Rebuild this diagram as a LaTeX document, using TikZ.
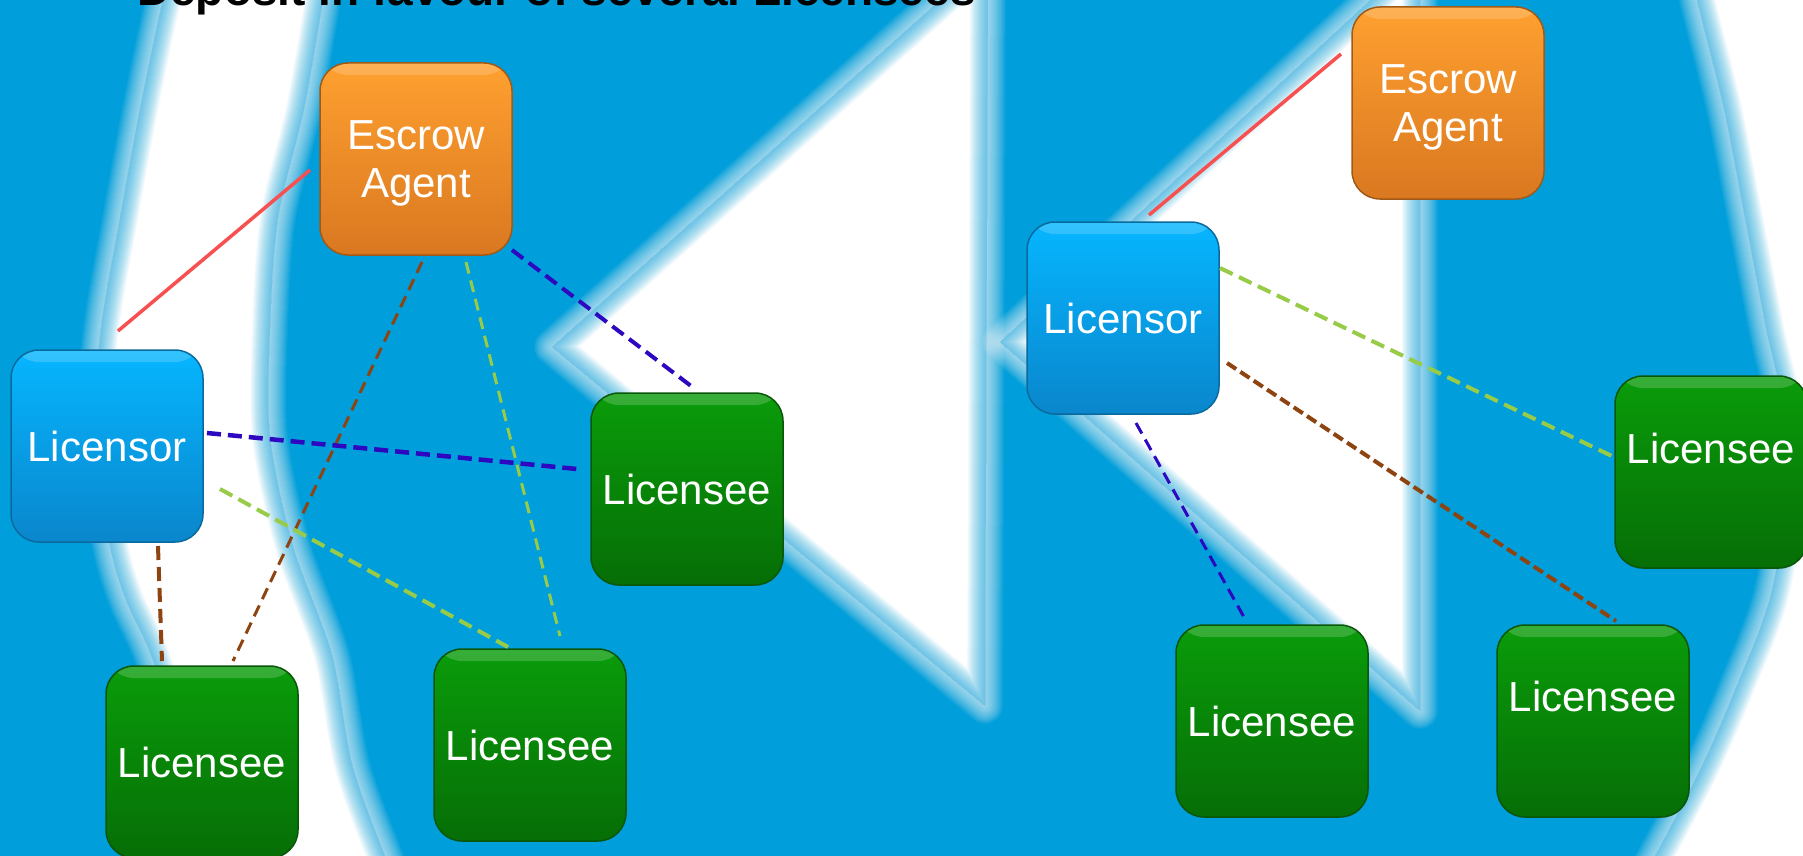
\documentclass[tikz,border=0pt]{standalone}
\usepackage{fontspec}
\setmainfont{Liberation Sans}
\definecolor{bgblue}{HTML}{009EDA}
\definecolor{bluT}{HTML}{06B6FF}
\definecolor{bluB}{HTML}{0A86CC}
\definecolor{bluD}{HTML}{0A6A9E}
\definecolor{orgT}{HTML}{FFA030}
\definecolor{orgB}{HTML}{D97820}
\definecolor{orgD}{HTML}{A05A18}
\definecolor{grnT}{HTML}{0A9C0A}
\definecolor{grnB}{HTML}{066E06}
\definecolor{grnD}{HTML}{0A560A}
\definecolor{cred}{HTML}{F85050}
\definecolor{cblue}{HTML}{2E08C0}
\definecolor{cbrown}{HTML}{8E4410}
\definecolor{cgreen}{HTML}{98CC48}
\newcommand\softshape[1]{%
  \foreach \w in {36,34,...,2}{\path[draw=white,line width=\w pt,opacity=0.05,line join=round] #1;}
  \fill[white] #1;
  \begin{scope}
    \clip #1;
    \foreach \w in {36,34,...,2}{\path[draw=bgblue,line width=\w pt,opacity=0.045,line join=round] #1;}
  \end{scope}
}
\begin{document}
\begin{tikzpicture}[x=1pt,y=-1pt,
  box/.style={rounded corners=28pt, minimum width=192pt, minimum height=192pt,
    inner sep=0pt, align=center, text=white, line width=1.5pt, text depth=0pt,
    font=\fontsize{42}{48}\selectfont,
    path picture={\fill[white,opacity=.18] (path picture bounding box.north west) rectangle ([yshift=-12pt]path picture bounding box.north east);}},
  bluebox/.style={box, top color=bluT, bottom color=bluB, draw=bluD},
  orangebox/.style={box, top color=orgT, bottom color=orgB, draw=orgD},
  greenbox/.style={box, top color=grnT, bottom color=grnB, draw=grnD},
  conn/.style={line width=4pt, dash pattern=on 14pt off 7pt},
  thinconn/.style={line width=3pt, dash pattern=on 12pt off 7pt},
  solidred/.style={line width=3.5pt, cred}]
\useasboundingbox (0,0) rectangle (1803,856);
\clip (0,0) rectangle (1803,856);
\fill[bgblue] (0,0) rectangle (1803,856);
% blurred white logo shapes
\softshape{plot[smooth] coordinates {(178,-40) (163,0) (140,109) (120,218) (101,328) (93,437) (110,546) (126,600) (151,655) (188,764) (228,856) (246,900)}
    -- plot[smooth] coordinates {(405,900) (385,856) (352,764) (332,655) (293,546) (270,437) (270,328) (278,218) (304,109) (323,0) (330,-40)} -- cycle}
\softshape{(974,-30) -- (552,347) -- (985,706) -- (988,-30) -- cycle}
\softshape{(1403,-30) -- (1000,342) -- (1420,711) -- (1420,-30) -- cycle}
\softshape{plot[smooth] coordinates {(1690,-40) (1697,0) (1724,109) (1745,218) (1766,328) (1790,450) (1772,590) (1735,690) (1700,770) (1655,856) (1630,900)} -- (1900,900) -- (1900,-40) -- cycle}

\node[anchor=base west, inner sep=0pt, font=\bfseries\fontsize{46}{55}\selectfont] (title) at (137,6) {Deposit in favour of several Licensees};

% left diagram
\node[orangebox] (escL) at (416,159) {Escrow\\Agent};
\node[bluebox] (licL) at (107,446) {Licensor};
\node[greenbox] (l1) at (687,489) {Licensee};
\node[greenbox] (l2) at (202,762) {Licensee};
\node[greenbox] (l3) at (530,745) {Licensee};

% right diagram
\node[orangebox] (escR) at (1448,103) {Escrow\\Agent};
\node[bluebox] (licR) at (1123,318) {Licensor};
\node[greenbox] (r1) at (1711,472) {\raisebox{24pt}[\height][\depth]{Licensee}};
\node[greenbox] (r2) at (1272,721) {Licensee};
\node[greenbox] (r3) at (1593,721) {\raisebox{25pt}[\height][\depth]{Licensee}};

% left connectors
\draw[solidred] ([shift={(11,-115)}]licL.center) -- ([shift={(-106,11)}]escL.center);
\draw[conn, cblue] ([shift={(96,91)}]escL.center) -- ([shift={(8,-100)}]l1.center);
\draw[thinconn, cbrown] ([shift={(6,103)}]escL.center) -- ([shift={(31,-101)}]l2.center);
\draw[thinconn, cgreen] ([shift={(50,103)}]escL.center) -- ([shift={(30,-109)}]l3.center);
\draw[conn, cblue, line width=4.5pt] ([shift={(100,-13)}]licL.center) -- ([shift={(-110,-20)}]l1.center);
\draw[conn, cgreen] ([shift={(113,43)}]licL.center) -- ([shift={(-22,-98)}]l3.center);
\draw[conn, cbrown] ([shift={(51,100)}]licL.center) -- ([shift={(-40,-101)}]l2.center);

% right connectors
\draw[solidred] ([shift={(26,-103)}]licR.center) -- ([shift={(-107,-49)}]escR.center);
\draw[conn, cgreen] ([shift={(97,-50)}]licR.center) -- ([shift={(-95,-14)}]r1.center);
\draw[conn, cbrown, dash pattern=on 11pt off 5pt] ([shift={(104,45)}]licR.center) -- ([shift={(23,-100)}]r3.center);
\draw[thinconn, cblue] ([shift={(13,105)}]licR.center) -- ([shift={(-27,-102)}]r2.center);
\end{tikzpicture}
\end{document}
